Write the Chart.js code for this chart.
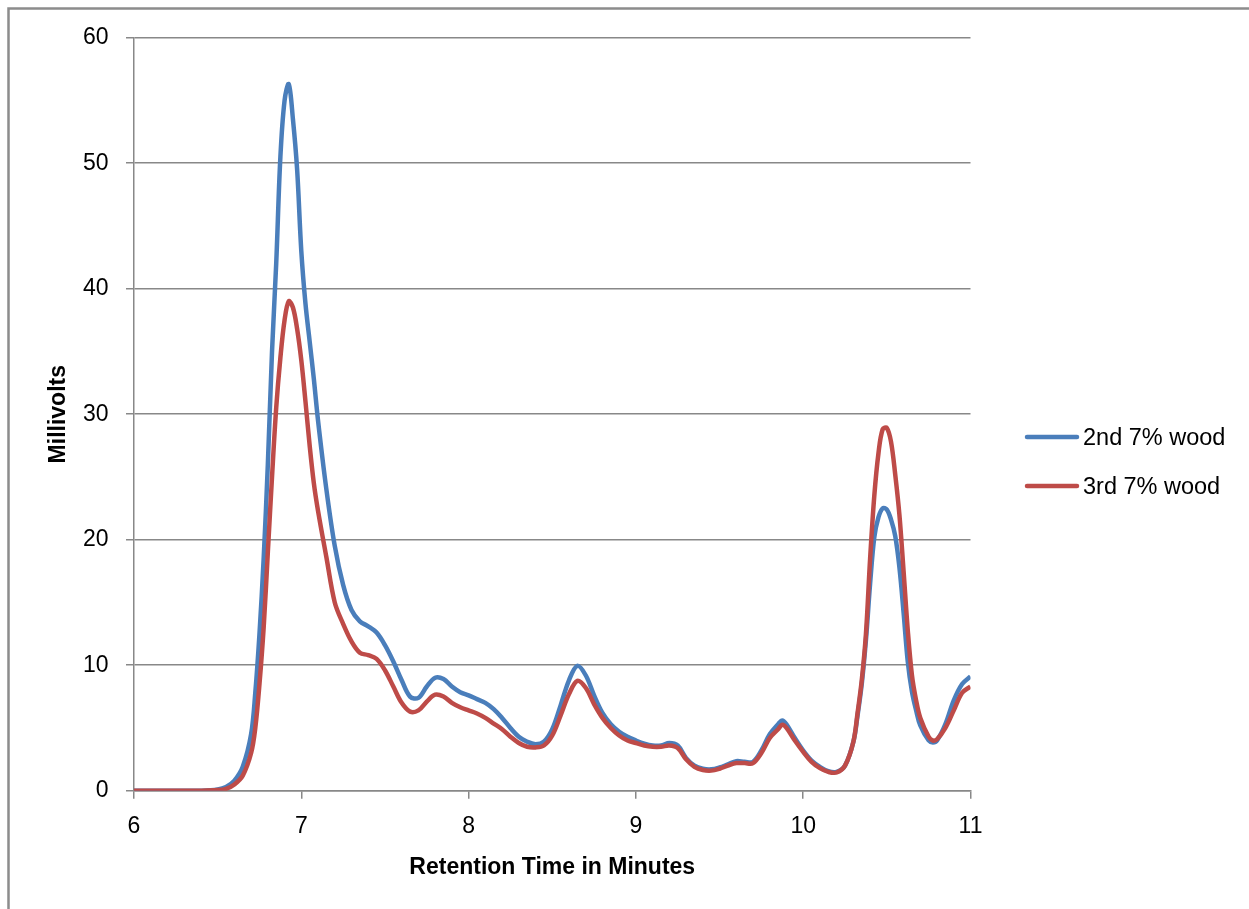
<!DOCTYPE html>
<html>
<head>
<meta charset="utf-8">
<script src="https://cdn.jsdelivr.net/npm/chart.js@4.4.1/dist/chart.umd.min.js"></script>
<style>
html,body{margin:0;padding:0;background:#fff;}
#wrap{width:1249px;height:909px;}
</style>
</head>
<body>
<div id="wrap"><canvas id="c" width="1249" height="909"></canvas></div>
<script>
const times = [6.0, 6.1, 6.2, 6.3, 6.4, 6.5, 6.55, 6.6, 6.65, 6.7,
  6.725, 6.75, 6.775, 6.8, 6.825, 6.85, 6.875, 6.9, 6.925, 6.95,
  6.975, 7.0, 7.025, 7.05, 7.075, 7.1, 7.15, 7.2, 7.25, 7.3,
  7.35, 7.4, 7.45, 7.5, 7.55, 7.6, 7.65, 7.7, 7.75, 7.8,
  7.85, 7.9, 7.95, 8.0, 8.05, 8.1, 8.15, 8.2, 8.25, 8.3,
  8.35, 8.4, 8.45, 8.5, 8.55, 8.6, 8.65, 8.7, 8.75, 8.8,
  8.85, 8.9, 8.95, 9.0, 9.05, 9.1, 9.15, 9.2, 9.25, 9.3,
  9.35, 9.4, 9.45, 9.5, 9.55, 9.6, 9.65, 9.7, 9.75, 9.8,
  9.85, 9.875, 9.9, 9.95, 10.0, 10.05, 10.1, 10.15, 10.2, 10.25,
  10.3, 10.325, 10.35, 10.375, 10.4, 10.425, 10.45, 10.475, 10.5, 10.525,
  10.55, 10.575, 10.6, 10.625, 10.65, 10.675, 10.7, 10.75, 10.775, 10.8,
  10.85, 10.9, 10.95, 11.0];

const wood2nd = [0, 0, 0, 0, 0, 0.1, 0.3, 0.8, 1.9, 4.5,
  7.8, 12.5, 18.5, 26, 35, 42, 50.5, 55, 56.3, 53.5,
  49.5, 43, 38.8, 35.8, 32.8, 29.5, 24.0, 19.5, 16.4, 14.4,
  13.5, 13.1, 12.6, 11.6, 10.3, 8.8, 7.5, 7.4, 8.3, 9.0,
  8.9, 8.3, 7.85, 7.6, 7.3, 7.0, 6.5, 5.8, 5.0, 4.3,
  3.9, 3.7, 3.9, 4.9, 6.8, 8.8, 9.95, 9.2, 7.6, 6.2,
  5.3, 4.7, 4.3, 4.0, 3.75, 3.6, 3.6, 3.8, 3.6, 2.6,
  2.0, 1.75, 1.7, 1.85, 2.1, 2.35, 2.3, 2.3, 3.2, 4.5,
  5.3, 5.6, 5.3, 4.2, 3.2, 2.4, 1.9, 1.55, 1.5, 2.0,
  3.9, 6.0, 8.5, 12.0, 16.5, 20.2, 21.8, 22.5, 22.4, 21.6,
  20.3, 17.8, 14.2, 10.3, 7.9, 6.4, 5.2, 4.0, 3.85, 4.0,
  5.3, 7.2, 8.5, 9.1];

const wood3rd = [0, 0, 0, 0, 0, 0.05, 0.15, 0.5, 1.2, 3.0,
  5, 8.5, 13, 19, 25, 30.5, 34.5, 37.5, 39, 38.5,
  36.8, 34.3, 31, 27.5, 24.5, 22.3, 18.6, 15.0, 13.3, 11.9,
  11.0, 10.8, 10.5, 9.6, 8.3, 7.0, 6.3, 6.4, 7.1, 7.65,
  7.5, 7.0, 6.65, 6.4, 6.15, 5.8, 5.35, 4.9, 4.3, 3.8,
  3.5, 3.45, 3.6, 4.4, 6.0, 7.7, 8.75, 8.2, 6.9, 5.8,
  5.0, 4.4, 4.0, 3.8, 3.6, 3.5, 3.5, 3.6, 3.4, 2.5,
  1.9, 1.65, 1.6, 1.75, 2.0, 2.2, 2.2, 2.2, 3.0, 4.2,
  4.9, 5.25, 5.0, 4.0, 3.1, 2.3, 1.8, 1.5, 1.45, 2.0,
  3.9, 6.2, 8.8, 12.5, 18.5, 23.5, 26.9, 28.8, 28.9, 27.8,
  25.2, 22, 17.5, 12.8, 9.2, 7.2, 5.8, 4.3, 4.0, 4.1,
  5.0, 6.4, 7.8, 8.3];

const seriesNames = ['2nd 7% wood', '3rd 7% wood'];
const xTitle = 'Retention Time in Minutes';
const yTitle = 'Millivolts';

const BLUE = '#4A7EBB';
const RED = '#BE4B48';
const GRID = '#888888';
const FONT = "'Liberation Sans', Arial, sans-serif";

const pts = (arr) => times.map((t, i) => ({x: t, y: arr[i]}));

const framePlugin = {
  id: 'frame',
  beforeDraw(chart) {
    const ctx = chart.ctx;
    ctx.save();
    ctx.fillStyle = '#fff';
    ctx.fillRect(0, 0, chart.width, chart.height);
    ctx.strokeStyle = '#8c8c8c';
    ctx.lineWidth = 2.5;
    ctx.beginPath();
    ctx.moveTo(8.5, chart.height);
    ctx.lineTo(8.5, 8.5);
    ctx.lineTo(chart.width, 8.5);
    ctx.stroke();
    ctx.restore();
  }
};

const legendPlugin = {
  id: 'sideLegend',
  afterDraw(chart) {
    const ctx = chart.ctx;
    ctx.save();
    chart.data.datasets.forEach((ds, i) => {
      const y = 437 + i * 49;
      ctx.strokeStyle = ds.borderColor;
      ctx.lineWidth = 4.5;
      ctx.lineCap = 'round';
      ctx.beginPath();
      ctx.moveTo(1027, y);
      ctx.lineTo(1077, y);
      ctx.stroke();
      ctx.fillStyle = '#000';
      ctx.font = "23.5px " + FONT;
      ctx.textBaseline = 'middle';
      ctx.textAlign = 'left';
      ctx.fillText(ds.label, 1083, y + 2);
    });
    ctx.restore();
  }
};

new Chart(document.getElementById('c'), {
  type: 'line',
  data: {
    datasets: [
      {label: seriesNames[0], data: pts(wood2nd), borderColor: BLUE, backgroundColor: BLUE,
       borderWidth: 4.5, pointRadius: 0, tension: 0.35, order: 1},
      {label: seriesNames[1], data: pts(wood3rd), borderColor: RED, backgroundColor: RED,
       borderWidth: 4.5, pointRadius: 0, tension: 0.35, order: 0}
    ]
  },
  options: {
    responsive: false,
    devicePixelRatio: 1,
    animation: false,
    events: [],
    layout: {padding: {top: 37.7, right: 278.5, bottom: 0, left: 0}},
    plugins: {legend: {display: false}, tooltip: {enabled: false}},
    scales: {
      x: {
        type: 'linear', min: 6, max: 11,
        afterFit(s) { s.height = 909 - 790.7; },
        ticks: {stepSize: 1, color: '#000', padding: 14, font: {family: FONT, size: 23}},
        grid: {drawOnChartArea: false, drawTicks: true, tickLength: 8, color: GRID, lineWidth: 1.5},
        border: {display: true, color: GRID, width: 1.5},
        title: {display: true, text: xTitle, color: '#000', font: {family: FONT, size: 23, weight: 'bold'}, padding: {top: 0, bottom: 28}}
      },
      y: {
        min: 0, max: 60,
        afterFit(s) { s.width = 134; },
        ticks: {stepSize: 10, color: '#000', padding: 17.5, font: {family: FONT, size: 23}},
        grid: {drawOnChartArea: true, drawTicks: true, tickLength: 8, color: GRID, lineWidth: 1.5},
        border: {display: true, color: GRID, width: 1.5},
        title: {display: true, text: yTitle, color: '#000', font: {family: FONT, size: 23, weight: 'bold'}, padding: {top: 44.7, bottom: 0}}
      }
    }
  },
  plugins: [framePlugin, legendPlugin]
});
</script>
</body>
</html>
